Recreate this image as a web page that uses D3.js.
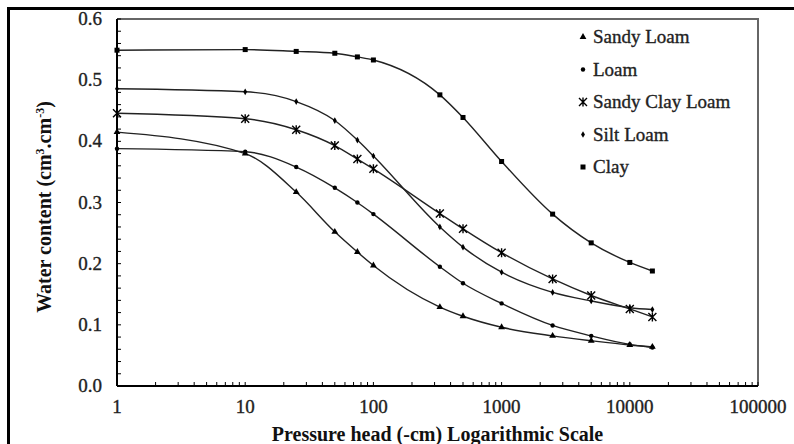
<!DOCTYPE html>
<html>
<head>
<meta charset="utf-8">
<script src="https://d3js.org/d3.v7.min.js"></script>
<style>
  body { margin: 0; background: #fff; }
</style>
</head>
<body>
<svg id="chart" width="794" height="444"></svg>
<script>
// pressure head values (cm), shared by all soils
var heads = [1, 10, 25, 50, 75, 100, 330, 500, 1000, 2500, 5000, 10000, 15000];

var sandyLoam     = [0.415, 0.380, 0.317, 0.252, 0.219, 0.197, 0.129, 0.114, 0.096, 0.082, 0.074, 0.067, 0.064];
var loam          = [0.388, 0.383, 0.358, 0.324, 0.300, 0.281, 0.195, 0.168, 0.135, 0.099, 0.082, 0.068, 0.063];
var sandyClayLoam = [0.446, 0.437, 0.419, 0.393, 0.371, 0.355, 0.282, 0.257, 0.218, 0.175, 0.148, 0.126, 0.113];
var siltLoam      = [0.486, 0.481, 0.465, 0.434, 0.402, 0.376, 0.260, 0.227, 0.186, 0.153, 0.139, 0.128, 0.125];
var clay          = [0.549, 0.550, 0.547, 0.544, 0.538, 0.533, 0.476, 0.439, 0.367, 0.281, 0.234, 0.202, 0.188];

var soilNames = ["Sandy Loam", "Loam", "Sandy Clay Loam", "Silt Loam", "Clay"];
var soilValues = [sandyLoam, loam, sandyClayLoam, siltLoam, clay];
var markers = ["triangle", "circle", "star", "diamond", "square"];

var xTicks = [1, 10, 100, 1000, 10000, 100000];
var yTicks = [0, 0.1, 0.2, 0.3, 0.4, 0.5, 0.6];

var serif = "'Liberation Serif', 'Times New Roman', serif";

var svg = d3.select("#chart");
var plotL = 117, plotT = 19, plotR = 758, plotB = 386;

var x = d3.scaleLog().domain([1, 100000]).range([plotL, plotR]);
var y = d3.scaleLinear().domain([0, 0.6]).range([plotB, plotT]);

// outer frame (only left and top edges show)
svg.append("path")
    .attr("d", "M8.5,444 L8.5,8.5 L794,8.5")
    .attr("fill", "none")
    .attr("stroke", "#000")
    .attr("stroke-width", 3);

// plot box: top and right edges
svg.append("path")
    .attr("d", "M" + plotL + "," + plotT + " L" + plotR + "," + plotT + " L" + plotR + "," + plotB)
    .attr("fill", "none")
    .attr("stroke", "#666")
    .attr("stroke-width", 2);

// minor ticks
var yMinor = d3.range(0, 0.601, 0.02);
svg.append("g").selectAll("line").data(yMinor).enter().append("line")
    .attr("x1", plotL).attr("x2", plotL + 4)
    .attr("y1", function(d) { return y(d); })
    .attr("y2", function(d) { return y(d); })
    .attr("stroke", "#000");

var xMinor = [];
for (var p = 0; p < 5; p++) {
    for (var k = 1; k <= 9; k++) xMinor.push(k * Math.pow(10, p));
}
xMinor.push(100000);
svg.append("g").selectAll("line").data(xMinor).enter().append("line")
    .attr("x1", function(d) { return x(d); })
    .attr("x2", function(d) { return x(d); })
    .attr("y1", plotB).attr("y2", plotB - 4)
    .attr("stroke", "#000");

// axes lines
svg.append("line").attr("x1", plotL).attr("x2", plotL).attr("y1", plotT).attr("y2", plotB)
    .attr("stroke", "#000").attr("stroke-width", 2);
svg.append("line").attr("x1", plotL).attr("x2", plotR).attr("y1", plotB).attr("y2", plotB)
    .attr("stroke", "#000").attr("stroke-width", 2);

// regular text helper: slightly heavier to mimic the scanned look
function label(sel) {
    return sel.attr("font-family", serif)
        .attr("font-size", 19)
        .attr("fill", "#222")
        .attr("stroke", "#222")
        .attr("stroke-width", 0.35);
}

// tick labels
label(svg.append("g").selectAll("text").data(yTicks).enter().append("text"))
    .attr("x", plotL - 15)
    .attr("y", function(d) { return y(d) + 6; })
    .attr("text-anchor", "end")
    .text(function(d) { return d.toFixed(1); });

label(svg.append("g").selectAll("text").data(xTicks).enter().append("text"))
    .attr("x", function(d) { return x(d); })
    .attr("y", plotB + 27)
    .attr("text-anchor", "middle")
    .text(function(d) { return d; });

// axis titles
svg.append("text")
    .attr("x", (plotL + plotR) / 2)
    .attr("y", 441)
    .attr("text-anchor", "middle")
    .attr("font-family", serif)
    .attr("font-size", 20)
    .attr("font-weight", "bold")
    .attr("fill", "#111")
    .text("Pressure head (-cm) Logarithmic Scale");

var yt = svg.append("text")
    .attr("transform", "translate(51,207) rotate(-90)")
    .attr("text-anchor", "middle")
    .attr("font-family", serif)
    .attr("font-size", 20)
    .attr("font-weight", "bold")
    .attr("fill", "#111");
yt.append("tspan").text("Water content (cm");
yt.append("tspan").attr("dy", -7).attr("font-size", 12).text("3");
yt.append("tspan").attr("dy", 7).text(".cm");
yt.append("tspan").attr("dy", -7).attr("font-size", 12).text("-3");
yt.append("tspan").attr("dy", 7).text(")");

// marker drawing
function drawMarker(g, type) {
    if (type === "triangle") {
        g.append("path").attr("d", d3.symbol().type(d3.symbolTriangle).size(20)()).attr("fill", "#000");
    } else if (type === "circle") {
        g.append("circle").attr("r", 2.2).attr("fill", "#000");
    } else if (type === "diamond") {
        g.append("path").attr("d", d3.symbol().type(d3.symbolDiamond).size(13)()).attr("fill", "#000");
    } else if (type === "square") {
        g.append("rect").attr("x", -2.5).attr("y", -2.5).attr("width", 5).attr("height", 5).attr("fill", "#000");
    } else if (type === "star") {
        g.append("path").attr("d", "M-4,-4 L4,4 M-4,4 L4,-4 M0,-4.5 L0,4.5")
            .attr("stroke", "#000").attr("stroke-width", 1.4);
    }
}

var line = d3.line()
    .x(function(d) { return x(d[0]); })
    .y(function(d) { return y(d[1]); })
    .curve(d3.curveMonotoneX);

soilValues.forEach(function(vals, i) {
    var pts = heads.map(function(h, j) { return [h, vals[j]]; });
    svg.append("path")
        .attr("d", line(pts))
        .attr("fill", "none")
        .attr("stroke", "#222")
        .attr("stroke-width", 1.4);
    pts.forEach(function(pt) {
        var g = svg.append("g").attr("transform", "translate(" + x(pt[0]) + "," + y(pt[1]) + ")");
        drawMarker(g, markers[i]);
    });
});

// legend
soilNames.forEach(function(name, i) {
    var cy = 37 + i * 32.5;
    var g = svg.append("g").attr("transform", "translate(583," + cy + ")");
    drawMarker(g, markers[i]);
    label(svg.append("text"))
        .attr("x", 593)
        .attr("y", cy + 6)
        .text(name);
});
</script>
</body>
</html>
